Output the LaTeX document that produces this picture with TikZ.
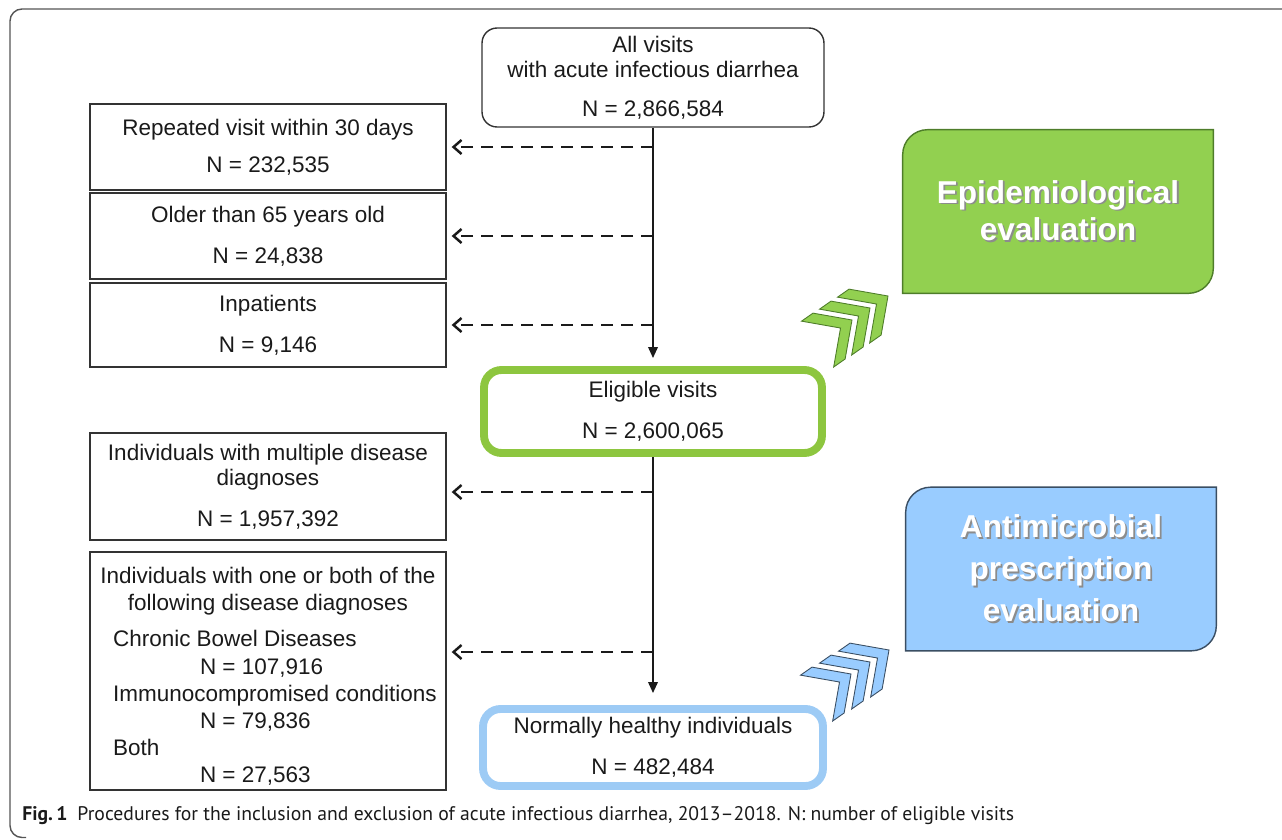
\documentclass[tikz,border=0pt]{standalone}
\usepackage{fontspec}
\setmainfont{Liberation Sans}
\newfontfamily\capfont{PT Sans}
\usetikzlibrary{arrows.meta,positioning}
\setlength{\parindent}{0pt}

\definecolor{epigreen}{HTML}{92D050}
\definecolor{epiedge}{HTML}{4E7D2A}
\definecolor{eligreen}{HTML}{8DC63F}
\definecolor{amblue}{HTML}{99CCFF}
\definecolor{amedge}{HTML}{3A4E63}
\definecolor{okblue}{HTML}{9DCBF5}
\definecolor{inkgray}{HTML}{1A1A1A}
\definecolor{framegray}{HTML}{555555}

% white heading text with a soft drop shadow
\newcommand{\shadowed}[1]{\leavevmode\rlap{\kern1pt\raisebox{-1pt}{\textcolor{black!45}{#1}}}\textcolor{white}{#1}}

\tikzset{
  bodytext/.style={font=\fontsize{12.8}{14.2}\selectfont, text=inkgray},
  exclbox/.style={bodytext, draw=black!80, line width=0.8pt, align=center,
    minimum width=71.2mm, inner sep=0pt},
  flowbox/.style={bodytext, draw=black!80, line width=0.8pt, rounded corners=3mm,
    align=center, minimum width=68.4mm, minimum height=19.8mm, inner sep=0pt},
  keepbox/.style={bodytext, line width=4.5pt, rounded corners=3.5mm, align=center,
    inner sep=0pt},
  sidebox/.style={font=\fontsize{18}{21.5}\bfseries\selectfont, align=center,
    minimum width=62mm, minimum height=32.6mm, inner sep=0pt},
  trunk/.style={line width=1.1pt, inkgray, -{Triangle[length=2.2mm,width=1.9mm]}},
  exclarrow/.style={line width=1.4pt, inkgray, dash pattern=on 2.4mm off 1.6mm,
    -{Straight Barb[length=1.6mm,width=2.8mm]}, shorten >=1mm},
  chevgreen/.style={fill=epigreen, draw=epiedge, line width=0.5pt},
  chevblue/.style={fill=amblue, draw=amedge, line width=0.5pt}
}

\begin{document}
\begin{tikzpicture}[x=0.02cm, y=-0.02cm]
  \useasboundingbox (0,0) rectangle (1282,839);
  \draw[framegray, line width=0.8pt, rounded corners=2.4mm]
    (1290,9) -- (10,9) -- (10,837.5) -- (26,837.5);

  % main column
  \node[flowbox] (allvisits) at (653,77.5)
    {All visits\\with acute infectious diarrhea\\[8pt]N = 2,866,584};
  \node[keepbox, draw=eligreen, minimum width=67.6mm, minimum height=16.6mm]
    (eligible) at (653,411.5) {Eligible visits\\[9pt]N = 2,600,065};
  \node[keepbox, draw=okblue, minimum width=68mm, minimum height=15.4mm]
    (healthy) at (653,747.5) {Normally healthy individuals\\[9pt]N = 482,484};

  % excluded visits
  \node[exclbox, minimum height=17.2mm] (repeat) at (268,147)
    {Repeated visit within 30 days\\[7pt]N = 232,535};
  \node[exclbox, minimum height=17.2mm] (older) at (268,236)
    {Older than 65 years old\\[9pt]N = 24,838};
  \node[exclbox, minimum height=16.8mm] (inpat) at (268,325)
    {Inpatients\\[9pt]N = 9,146};
  \node[exclbox, minimum height=21.4mm] (multi) at (268,486.5)
    {Individuals with multiple disease\\diagnoses\\[9pt]N = 1,957,392};
  \node[exclbox, align=left, inner xsep=1.6mm, minimum height=47.6mm,
    font=\fontsize{12.8}{15.4}\selectfont] (comorb) at (268,671)
    {\rule{0pt}{15pt}\makebox[68mm][c]{Individuals with one or both of the}\\
     \makebox[68mm][c]{following disease diagnoses}\\[5.5pt]
     \hspace*{3mm}Chronic Bowel Diseases\\
     \hspace*{20.4mm}N = 107,916\\
     \hspace*{3mm}Immunocompromised conditions\\
     \hspace*{20.4mm}N = 79,836\\
     \hspace*{3mm}Both\\
     \hspace*{20.4mm}N = 27,563};

  % evaluation panels
  \node[sidebox] (epi) at (1058,211.5) {};
  \node[sidebox] (amr) at (1061,569) {};
  \fill[epigreen] (epi.south west) -- ([yshift=-5mm]epi.north west)
    arc[start angle=180, end angle=90, radius=5mm] -- (epi.north east)
    -- ([yshift=5mm]epi.south east) arc[start angle=0, end angle=-90, radius=5mm] -- cycle;
  \draw[epiedge, line width=0.8pt] (epi.south west) -- ([yshift=-5mm]epi.north west)
    arc[start angle=180, end angle=90, radius=5mm] -- (epi.north east)
    -- ([yshift=5mm]epi.south east) arc[start angle=0, end angle=-90, radius=5mm] -- cycle;
  \fill[amblue] (amr.south west) -- ([yshift=-5mm]amr.north west)
    arc[start angle=180, end angle=90, radius=5mm] -- (amr.north east)
    -- ([yshift=5mm]amr.south east) arc[start angle=0, end angle=-90, radius=5mm] -- cycle;
  \draw[amedge, line width=0.8pt] (amr.south west) -- ([yshift=-5mm]amr.north west)
    arc[start angle=180, end angle=90, radius=5mm] -- (amr.north east)
    -- ([yshift=5mm]amr.south east) arc[start angle=0, end angle=-90, radius=5mm] -- cycle;
  \node[sidebox] (epitext) at (epi) {\shadowed{Epidemiological}\\\shadowed{evaluation}};
  \node[sidebox, font=\fontsize{18}{24}\bfseries\selectfont] (amrtext) at (amr)
    {\shadowed{Antimicrobial}\\\shadowed{prescription}\\\shadowed{evaluation}};

  % chevrons
  \foreach \i in {0,1,2} {
    \draw[chevgreen, shift={(852+18*\i,320-12*\i)}, rotate=35]
      (0,0) -- (-28,28) -- (-42,28) -- (-14,0) -- (-42,-28) -- (-28,-28) -- cycle;
    \draw[chevblue, shift={(851+19*\i,674-12*\i)}, rotate=35]
      (0,0) -- (-28,28) -- (-42,28) -- (-14,0) -- (-42,-28) -- (-28,-28) -- cycle;
  }

  % connectors
  \draw[trunk, shorten >=1.6mm] (allvisits.south) -- (eligible.north);
  \draw[trunk, shorten >=2.4mm] (eligible.south) -- (healthy.north);
  \draw[exclarrow] (repeat.east -| allvisits.south) -- (repeat.east);
  \draw[exclarrow] (older.east -| allvisits.south) -- (older.east);
  \draw[exclarrow] (inpat.east -| allvisits.south) -- (inpat.east);
  \draw[exclarrow] ([yshift=-1.1mm]multi.east -| allvisits.south) -- ([yshift=-1.1mm]multi.east);
  \draw[exclarrow] ([yshift=3.8mm]comorb.east -| allvisits.south) -- ([yshift=3.8mm]comorb.east);

  % caption
  \node[anchor=west, font=\capfont\fontsize{11.2}{13}\selectfont, text=inkgray, inner sep=0pt]
    (caption) at (22,816)
    {\textbf{Fig.\,1}\hspace{2mm}Procedures for the inclusion and exclusion of acute infectious diarrhea, 2013\textendash 2018. N: number of eligible visits};
\end{tikzpicture}
\end{document}
